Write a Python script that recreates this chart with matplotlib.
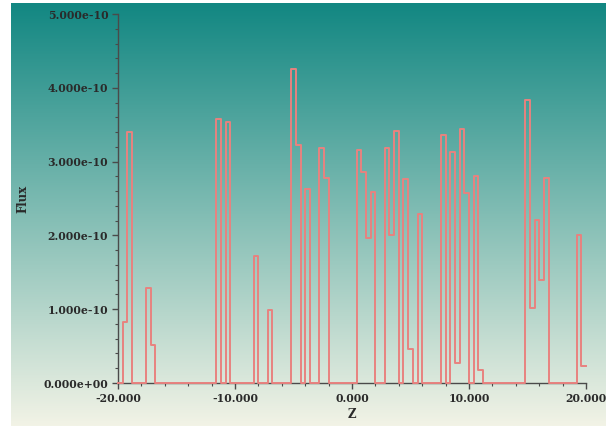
import numpy as np
import matplotlib
matplotlib.use("Agg")
import matplotlib.pyplot as plt
from matplotlib.ticker import MultipleLocator, FuncFormatter

# histogram of flux along Z, 100 bins of 0.4 from -20 to 20 (units of 1e-10)
z_min = -20.0
z_max = 20.0
flux = [
    0.00, 0.82, 3.40, 0.00, 0.00, 0.00, 1.29, 0.51, 0.00, 0.00,
    0.00, 0.00, 0.00, 0.00, 0.00, 0.00, 0.00, 0.00, 0.00, 0.00,
    0.00, 3.58, 0.00, 3.53, 0.00, 0.00, 0.00, 0.00, 0.00, 1.72,
    0.00, 0.00, 0.99, 0.00, 0.00, 0.00, 0.00, 4.25, 3.22, 0.00,
    2.63, 0.00, 0.00, 3.18, 2.78, 0.00, 0.00, 0.00, 0.00, 0.00,
    0.00, 3.16, 2.86, 1.97, 2.59, 0.00, 0.00, 3.18, 2.01, 3.42,
    0.00, 2.77, 0.46, 0.00, 2.29, 0.00, 0.00, 0.00, 0.00, 3.36,
    0.00, 3.13, 0.27, 3.44, 2.58, 0.00, 2.80, 0.18, 0.00, 0.00,
    0.00, 0.00, 0.00, 0.00, 0.00, 0.00, 0.00, 3.84, 1.01, 2.21,
    1.39, 2.78, 0.00, 0.00, 0.00, 0.00, 0.00, 0.00, 2.00, 0.23,
]

flux = np.array(flux) * 1e-10
edges = np.linspace(z_min, z_max, len(flux) + 1)

plt.rcParams['font.family'] = ['DejaVu Serif']
plt.rcParams['font.weight'] = 'bold'

fig = plt.figure(figsize=(6.13, 4.26), dpi=100, facecolor='white')

# gradient background panel
bg = fig.add_axes([11 / 613, 0.0, (606 - 11) / 613, 423 / 426])
top = np.array([0x12, 0x87, 0x82]) / 255
bottom = np.array([0xf2, 0xf3, 0xe6]) / 255
t = np.linspace(0, 1, 256)[:, None]
grad = top * (1 - t) + bottom * t
bg.imshow(grad[:, None, :], aspect='auto', extent=[0, 1, 0, 1])
bg.axis('off')

ax = fig.add_axes([118 / 613, 1 - 383 / 426, (586 - 118) / 613, (383 - 14) / 426])
ax.patch.set_alpha(0)

ax.plot(edges, np.append(flux, flux[-1]), drawstyle='steps-post',
        color='#e8827f', lw=1.4, zorder=3, clip_on=False)

ax.set_xlim(z_min, z_max)
ax.set_ylim(0, 5e-10)

ax.xaxis.set_major_locator(MultipleLocator(10))
ax.xaxis.set_minor_locator(MultipleLocator(2))
ax.yaxis.set_major_locator(MultipleLocator(1e-10))
ax.yaxis.set_minor_locator(MultipleLocator(0.2e-10))
ax.xaxis.set_major_formatter(FuncFormatter(lambda v, p: f"{v:.3f}"))
ax.yaxis.set_major_formatter(FuncFormatter(lambda v, p: f"{v:.3e}"))
ax.yaxis.get_offset_text().set_visible(False)

for s in ['top', 'right']:
    ax.spines[s].set_visible(False)
for s in ['left', 'bottom']:
    ax.spines[s].set_color('#4a4a4a')
    ax.spines[s].set_linewidth(1.0)

ax.tick_params(which='major', direction='out', length=4, width=1, color='#4a4a4a',
               labelsize=7.8, labelcolor='#2a2a2a', pad=3)
ax.tick_params(which='minor', direction='out', length=2, width=0.8, color='#4a4a4a')

ax.set_xlabel('Z', fontsize=8.5, fontweight='bold', color='#2a2a2a', labelpad=3)
ax.set_ylabel('Flux', fontsize=8.5, fontweight='bold', color='#2a2a2a', labelpad=10)

fig.savefig('out.png', dpi=100, facecolor='white')
